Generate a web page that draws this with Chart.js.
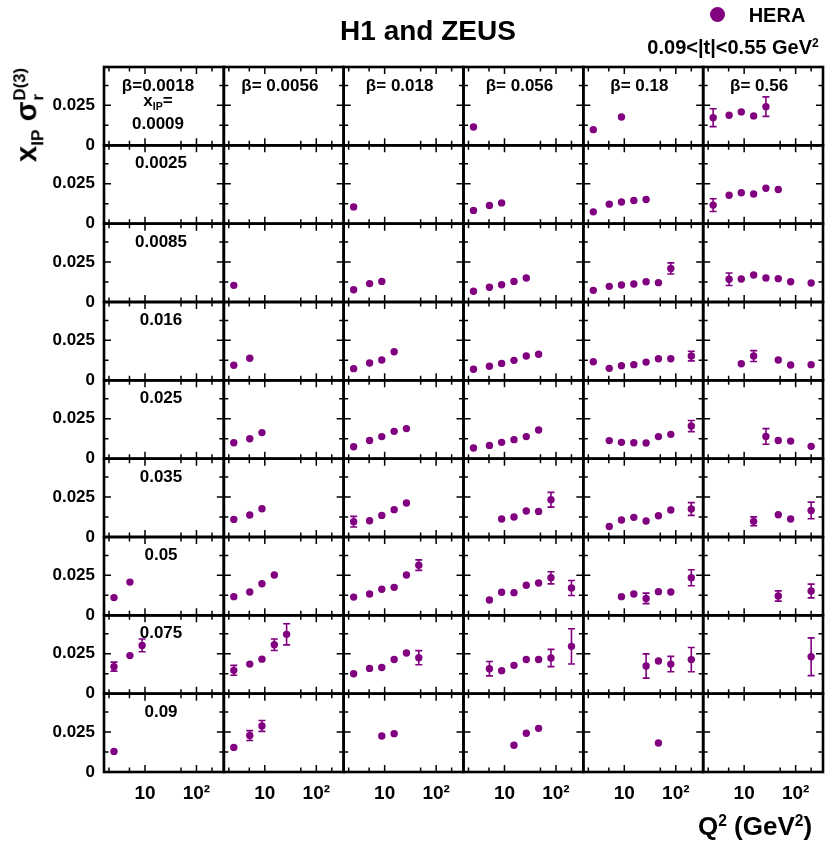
<!DOCTYPE html>
<html><head><meta charset="utf-8">
<script src="https://cdn.jsdelivr.net/npm/chart.js@4.4.0/dist/chart.umd.min.js"></script>
<style>
html,body{margin:0;padding:0;background:#fff;}
#wrap{position:relative;width:836px;height:845px;overflow:hidden;font-family:"Liberation Sans",Arial,Helvetica,sans-serif;font-weight:bold;color:#000;}
#c{position:absolute;left:0;top:0;}
.lbl{position:absolute;transform:translate(-50%,-50%);white-space:nowrap;line-height:1;}
.stk{display:inline-flex;flex-direction:column;vertical-align:middle;font-size:0.58em;line-height:1.05;margin-left:1px;}
</style></head><body>
<div id="wrap"><canvas id="c" width="836" height="845"></canvas></div>
<script>
// ---------- data ----------
const q2Bins = [2.5, 5.1, 8.8, 15.3, 26.5, 46, 80, 200];
const betaLabels = ['β=0.0018', 'β= 0.0056', 'β= 0.018', 'β= 0.056', 'β= 0.18', 'β= 0.56'];
const xipLabels = ['0.0009', '0.0025', '0.0085', '0.016', '0.025', '0.035', '0.05', '0.075', '0.09'];
const xTickValues = [10, 100];
const xTickLabels = ['10', '10²'];
const xTickMarks = [2, 5, 10, 50, 100, 200];
const yTickValues = [0, 0.025];
const yTickLabels = ['0', '0.025'];
const yMinorTicks = [0.0125, 0.0375];
const _ = null;

// one list per beta column, entries aligned with q2Bins
const sig_xip0009 = [[], [], [],
  [0.0115],
  [0.0098, _, 0.0177],
  [0.0173, 0.0188, 0.0209, 0.0184, 0.0242]];
const err_xip0009 = [[], [], [],
  [0.0008],
  [0.0008, _, 0.001],
  [0.0056, 0.0019, 0.0012, 0.0012, 0.0061]];

const sig_xip0025 = [[], [],
  [0.0105],
  [0.0083, 0.0114, 0.013],
  [0.0074, 0.0122, 0.0136, 0.0145, 0.0151],
  [0.0116, 0.0178, 0.0193, 0.0186, 0.0222, 0.0214]];
const err_xip0025 = [[], [],
  [0.0008],
  [0.0008, 0.0008, 0.0008],
  [0.0008, 0.0008, 0.0008, 0.0008, 0.0008],
  [0.004, 0.0012, 0.001, 0.001, 0.001, 0.001]];

const sig_xip0085 = [[],
  [0.0104],
  [0.0077, 0.0115, 0.0129],
  [0.0067, 0.0092, 0.0108, 0.0129, 0.015],
  [0.0073, 0.0098, 0.0106, 0.0113, 0.0127, 0.0121, 0.021],
  [_, 0.0142, 0.0144, 0.0169, 0.015, 0.0146, 0.0127, 0.0119]];
const err_xip0085 = [[],
  [0.0016],
  [0.0008, 0.0008, 0.0008],
  [0.0008, 0.0008, 0.0008, 0.0008, 0.0008],
  [0.0008, 0.0008, 0.0008, 0.0008, 0.0008, 0.001, 0.0035],
  [_, 0.0039, 0.001, 0.001, 0.001, 0.001, 0.0012, 0.0019]];

const sig_xip016 = [[],
  [0.0094, 0.0138],
  [0.0073, 0.0108, 0.0127, 0.0179],
  [0.0069, 0.0088, 0.0106, 0.0125, 0.0152, 0.0163],
  [0.0116, 0.0075, 0.0091, 0.0098, 0.0114, 0.0135, 0.0135, 0.0152],
  [_, _, 0.0104, 0.0152, _, 0.0127, 0.0096, 0.0098]];
const err_xip016 = [[],
  [0.0008, 0.0008],
  [0.0008, 0.0008, 0.0008, 0.0008],
  [0.0008, 0.0008, 0.0008, 0.0008, 0.0008, 0.0008],
  [0.0019, 0.0008, 0.0008, 0.0008, 0.0008, 0.001, 0.001, 0.003],
  [_, _, 0.0019, 0.0034, _, 0.001, 0.001, 0.0019]];

const sig_xip025 = [[],
  [0.01, 0.0125, 0.0163],
  [0.0075, 0.0114, 0.0138, 0.0171, 0.0188],
  [0.0067, 0.0083, 0.0102, 0.0119, 0.0138, 0.0179],
  [_, 0.0113, 0.0102, 0.01, 0.0098, 0.0138, 0.0152, 0.0204],
  [_, _, _, _, 0.0139, 0.0114, 0.011, 0.0077]];
const err_xip025 = [[],
  [0.0008, 0.0008, 0.0008],
  [0.0008, 0.0008, 0.0008, 0.0008, 0.0008],
  [0.0008, 0.0008, 0.0008, 0.0008, 0.0008, 0.0008],
  [_, 0.0019, 0.0008, 0.0008, 0.0008, 0.001, 0.001, 0.0035],
  [_, _, _, _, 0.0049, 0.001, 0.001, 0.0019]];

const sig_xip035 = [[],
  [0.011, 0.0138, 0.0177],
  [0.0096, 0.0102, 0.0135, 0.0171, 0.0213],
  [_, _, 0.0113, 0.0125, 0.0163, 0.016, 0.0233],
  [_, 0.0066, 0.0106, 0.0123, 0.01, 0.0133, 0.0169, 0.0175],
  [_, _, _, 0.0098, _, 0.0139, 0.0113, 0.0166]];
const err_xip035 = [[],
  [0.0019, 0.0008, 0.0008],
  [0.0033, 0.0008, 0.0008, 0.0008, 0.0008],
  [_, _, 0.0008, 0.0008, 0.0008, 0.001, 0.0046],
  [_, 0.0008, 0.0019, 0.0025, 0.0008, 0.001, 0.0025, 0.004],
  [_, _, _, 0.0028, _, 0.002, 0.0025, 0.0052]];

const sig_xip05 = [
  [0.0111, 0.0208],
  [0.0117, 0.0146, 0.0198, 0.0252],
  [0.0114, 0.0133, 0.0163, 0.0175, 0.0252, 0.0314],
  [_, 0.0096, 0.0144, 0.0142, 0.0188, 0.0202, 0.0235, 0.0171],
  [_, _, 0.0117, 0.0133, 0.0106, 0.0148, 0.0146, 0.0235],
  [_, _, _, _, _, 0.0121, _, 0.0152]];
const err_xip05 = [
  [0.0019, 0.0008],
  [0.0008, 0.0008, 0.0008, 0.0008],
  [0.0008, 0.0008, 0.0008, 0.0008, 0.001, 0.0033],
  [_, 0.0008, 0.0008, 0.0008, 0.0008, 0.001, 0.0038, 0.0047],
  [_, _, 0.0008, 0.0022, 0.0033, 0.001, 0.002, 0.005],
  [_, _, _, _, _, 0.0032, _, 0.0043]];

const sig_xip075 = [
  [0.0169, 0.0238, 0.0302],
  [0.0146, 0.0185, 0.0216, 0.0306, 0.0371],
  [0.0125, 0.0158, 0.0164, 0.0214, 0.0254, 0.0225],
  [_, 0.0156, 0.0144, 0.0177, 0.0214, 0.0214, 0.0223, 0.0296],
  [_, _, _, _, 0.0173, 0.0204, 0.0185, 0.0213],
  [_, _, _, _, _, _, _, 0.0231]];
const err_xip075 = [
  [0.0028, 0.0008, 0.004],
  [0.0031, 0.0008, 0.0008, 0.0036, 0.0066],
  [0.0008, 0.0008, 0.0008, 0.001, 0.0025, 0.0044],
  [_, 0.0045, 0.0008, 0.001, 0.001, 0.001, 0.0054, 0.011],
  [_, _, _, _, 0.0076, 0.002, 0.0048, 0.0076],
  [_, _, _, _, _, _, _, 0.0118]];

const sig_xip09 = [
  [0.0129],
  [0.0154, 0.0228, 0.0288],
  [_, _, 0.0225, 0.024],
  [_, _, _, 0.0167, 0.0242, 0.0273],
  [_, _, _, _, _, 0.0181],
  []];
const err_xip09 = [
  [0.0019],
  [0.0025, 0.0031, 0.0034],
  [_, _, 0.0025, 0.0022],
  [_, _, _, 0.0008, 0.0022, 0.0022],
  [_, _, _, _, _, 0.0019],
  []];

const rowValues = [sig_xip0009, sig_xip0025, sig_xip0085, sig_xip016, sig_xip025, sig_xip035, sig_xip05, sig_xip075, sig_xip09];
const rowErrors = [err_xip0009, err_xip0025, err_xip0085, err_xip016, err_xip025, err_xip035, err_xip05, err_xip075, err_xip09];

// ---------- chart ----------
const NROW = 9, NCOL = 6;
const PURPLE = '#800080';
Chart.defaults.font.family = '"Liberation Sans", Arial, Helvetica, sans-serif';
Chart.defaults.color = '#000';

const datasets = [];
for (let r = 0; r < NROW; r++) {
  for (let c = 0; c < NCOL; c++) {
    const vals = rowValues[r][c] || [];
    const errs = rowErrors[r][c] || [];
    const data = [], e = [];
    q2Bins.forEach((q, k) => {
      if (vals[k] !== undefined && vals[k] !== null) {
        data.push({x: q, y: vals[k]});
        e.push(errs[k] || 0);
      }
    });
    datasets.push({
      label: 'HERA ' + xipLabels[r] + ' ' + betaLabels[c],
      data, errors: e,
      xAxisID: 'x' + c, yAxisID: 'y' + r,
      backgroundColor: PURPLE, borderColor: PURPLE, borderWidth: 0,
      pointRadius: 3.7, pointHoverRadius: 3.7, pointStyle: 'circle'
    });
  }
}

const scales = {};
for (let c = 0; c < NCOL; c++) {
  scales['x' + c] = {
    type: 'logarithmic', position: 'bottom', stack: 'cols', stackWeight: 1, weight: c + 1,
    min: 1.6, max: 340,
    grid: {display: false, drawTicks: false}, border: {display: false},
    ticks: {autoSkip: false, maxRotation: 0, padding: 10, font: {size: 19, weight: 'bold'},
      callback: (v) => { const i = xTickValues.indexOf(v); return i >= 0 ? xTickLabels[i] : ''; }},
    afterBuildTicks: (s) => { s.ticks = xTickValues.map(v => ({value: v})); },
    afterFit: (s) => { s.height = 40; s.paddingLeft = 0; s.paddingRight = 0; s.paddingTop = 0; s.paddingBottom = 0; }
  };
}
for (let r = 0; r < NROW; r++) {
  scales['y' + r] = {
    type: 'linear', position: 'left', stack: 'rows', stackWeight: 1, weight: NROW - r,
    min: 0, max: 0.049,
    grid: {display: false, drawTicks: false}, border: {display: false},
    ticks: {autoSkip: false, padding: 9, font: {size: 17, weight: 'bold'},
      callback: (v) => { const i = yTickValues.indexOf(v); return i >= 0 ? yTickLabels[i] : ''; }},
    afterBuildTicks: (s) => { s.ticks = yTickValues.map(v => ({value: v})); },
    afterFit: (s) => { s.width = 104; s.paddingLeft = 0; s.paddingRight = 0; s.paddingTop = 0; s.paddingBottom = 0; }
  };
}

const errorBars = {
  id: 'errorBars',
  beforeDatasetsDraw(chart) {
    const ctx = chart.ctx;
    chart.data.datasets.forEach((ds, i) => {
      const meta = chart.getDatasetMeta(i);
      const ys = chart.scales[ds.yAxisID];
      ctx.save();
      ctx.strokeStyle = PURPLE; ctx.lineWidth = 1.6;
      meta.data.forEach((pt, j) => {
        const e = ds.errors[j];
        if (!e) return;
        const v = ds.data[j].y;
        const yt = ys.getPixelForValue(v + e), yb = ys.getPixelForValue(v - e);
        if (yb - yt < 8) return;
        ctx.beginPath();
        ctx.moveTo(pt.x, yt); ctx.lineTo(pt.x, yb);
        ctx.moveTo(pt.x - 3.5, yt); ctx.lineTo(pt.x + 3.5, yt);
        ctx.moveTo(pt.x - 3.5, yb); ctx.lineTo(pt.x + 3.5, yb);
        ctx.stroke();
      });
      ctx.restore();
    });
  }
};

const frames = {
  id: 'frames',
  afterDraw(chart) {
    const ctx = chart.ctx;
    ctx.save();
    ctx.strokeStyle = '#000';
    for (let r = 0; r < NROW; r++) {
      for (let c = 0; c < NCOL; c++) {
        const xs = chart.scales['x' + c], ys = chart.scales['y' + r];
        const L = xs.left, R = xs.right, T = ys.top, B = ys.bottom;
        ctx.lineWidth = 1.5;
        ctx.beginPath();
        xTickMarks.forEach(v => {
          const px = xs.getPixelForValue(v);
          const len = xTickValues.includes(v) ? 7 : 4.5;
          ctx.moveTo(px, B); ctx.lineTo(px, B - len);
          ctx.moveTo(px, T); ctx.lineTo(px, T + len);
        });
        yTickValues.concat(yMinorTicks).forEach(v => {
          if (v === 0) return;
          const py = ys.getPixelForValue(v);
          const len = yTickValues.includes(v) ? 7 : 4.5;
          ctx.moveTo(L, py); ctx.lineTo(L + len, py);
          ctx.moveTo(R, py); ctx.lineTo(R - len, py);
        });
        ctx.stroke();
        ctx.lineWidth = 2.6;
        ctx.strokeRect(L, T, R - L, B - T);
      }
    }
    ctx.restore();
  }
};

new Chart(document.getElementById('c'), {
  type: 'scatter',
  data: {datasets},
  options: {
    responsive: false, animation: false, devicePixelRatio: 1,
    layout: {padding: {left: 0, top: 67, right: 13, bottom: 33}},
    plugins: {legend: {display: false}, tooltip: {enabled: false}, title: {display: false}},
    scales
  },
  plugins: [errorBars, frames]
});

// ---------- text ----------
const wrap = document.getElementById('wrap');
function addText(html, x, y, size, extra) {
  const d = document.createElement('div');
  d.className = 'lbl';
  d.innerHTML = html;
  d.style.left = x + 'px'; d.style.top = y + 'px'; d.style.fontSize = size + 'px';
  if (extra) Object.assign(d.style, extra);
  wrap.appendChild(d);
  return d;
}
const colLeft = 104, colW = 719 / 6, rowTop = 67, rowH = 705 / 9;
betaLabels.forEach((t, c) => {
  addText(t, c === 0 ? 158 : colLeft + c * colW + 56, rowTop + 18, 17);
});
addText('x<sub style="font-size:0.62em">IP</sub>=', 158, rowTop + 35, 17);
xipLabels.forEach((t, r) => {
  if (r === 0) addText(t, 158, rowTop + 56, 17);
  else addText(t, 161, rowTop + r * rowH + 17, 17);
});
addText('H1 and ZEUS', 428, 31, 28);
const dot = document.createElement('div');
Object.assign(dot.style, {position: 'absolute', left: '710px', top: '7px', width: '15px', height: '15px', borderRadius: '50%', background: PURPLE});
wrap.appendChild(dot);
addText('HERA', 777, 15, 20);
addText('0.09&lt;|t|&lt;0.55 GeV<sup style="font-size:0.6em">2</sup>', 733, 47, 20);
addText('x<sub style="font-size:0.6em">IP</sub> σ<span class="stk"><span>D(3)</span><span>r</span></span>', 29, 115, 29, {transform: 'translate(-50%,-50%) rotate(-90deg)'});
addText('Q<sup style="font-size:0.6em">2</sup> (GeV<sup style="font-size:0.6em">2</sup>)', 755, 826, 26);
</script>
</body></html>
